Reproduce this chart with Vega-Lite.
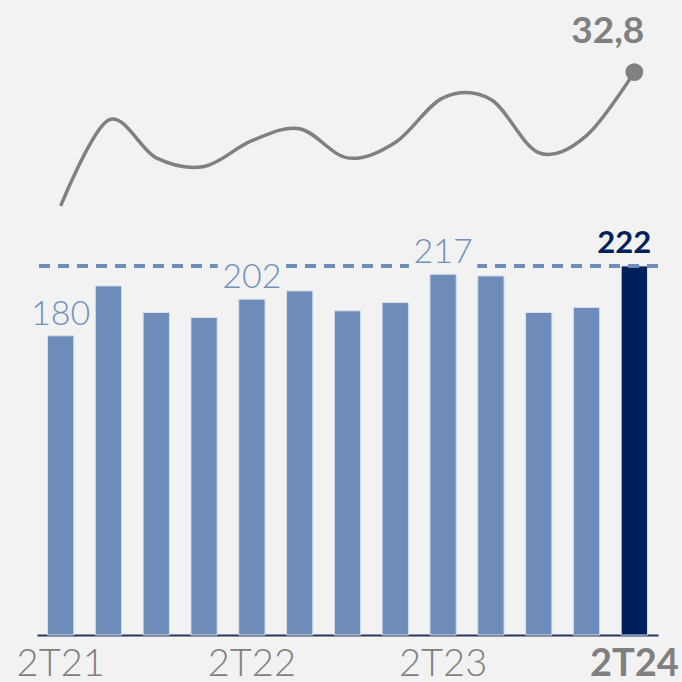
{
  "$schema": "https://vega.github.io/schema/vega-lite/v6.json",
  "width": 621,
  "height": 635,
  "autosize": {"type": "none"},
  "padding": {"left": 37, "right": 24, "top": 0, "bottom": 47},
  "background": "#f2f2f2",
  "config": {
    "view": {"stroke": null},
    "font": "Lato",
    "locale": {"number": {"decimal": ",", "thousands": ".", "grouping": [3], "currency": ["", " €"]}}
  },
  "data": {
    "values": [
      {"q": "2T21", "v": 180, "r": 25.0},
      {"q": "3T21", "v": 210, "r": 30.0},
      {"q": "4T21", "v": 194, "r": 27.8},
      {"q": "1T22", "v": 191, "r": 27.3},
      {"q": "2T22", "v": 202, "r": 28.8},
      {"q": "3T22", "v": 207, "r": 29.5},
      {"q": "4T22", "v": 195, "r": 27.8},
      {"q": "1T23", "v": 200, "r": 28.7},
      {"q": "2T23", "v": 217, "r": 31.3},
      {"q": "3T23", "v": 216, "r": 31.2},
      {"q": "4T23", "v": 194, "r": 28.1},
      {"q": "1T24", "v": 197, "r": 29.1},
      {"q": "2T24", "v": 222, "r": 32.8}
    ]
  },
  "layer": [
    {
      "mark": {"type": "bar", "stroke": "#d7e0ec", "strokeWidth": 1},
      "encoding": {
        "x": {
          "field": "q",
          "type": "nominal",
          "sort": null,
          "scale": {"paddingInner": 0.45, "paddingOuter": 0.22},
          "axis": {
            "title": null,
            "values": ["2T21", "2T22", "2T23", "2T24"],
            "labelAngle": 0,
            "ticks": false,
            "domainColor": "#263759",
            "domainWidth": 2,
            "labelFont": "Lato",
            "labelFontSize": 38,
            "labelColor": "#808080",
            "labelFontWeight": {"condition": {"test": "datum.value == '2T24'", "value": "bold"}, "value": 300},
            "labelPadding": 10
          }
        },
        "y": {"field": "v", "type": "quantitative", "scale": {"domain": [0, 382]}, "axis": null},
        "color": {"condition": {"test": "datum.q == '2T24'", "value": "#00205c"}, "value": "#6e8cb9"}
      }
    },
    {
      "mark": {"type": "rule", "color": "#6e8cb9", "strokeWidth": 2.5, "strokeDash": [11, 8]},
      "encoding": {
        "y": {"datum": 222, "type": "quantitative", "scale": {"domain": [0, 382]}, "axis": null}
      }
    },
    {
      "transform": [{"filter": {"field": "q", "oneOf": ["2T22", "2T23"]}}],
      "mark": {"type": "bar", "color": "#f2f2f2", "width": {"band": 2.6}},
      "encoding": {
        "x": {"field": "q", "type": "nominal", "sort": null},
        "y": {"datum": 219, "type": "quantitative", "scale": {"domain": [0, 382]}, "axis": null},
        "y2": {"datum": 225}
      }
    },
    {
      "transform": [{"filter": {"field": "q", "oneOf": ["2T21", "2T22", "2T23"]}}],
      "mark": {"type": "text", "baseline": "alphabetic", "dy": -11, "fontSize": 34, "fontWeight": 300, "color": "#7090bd"},
      "encoding": {
        "x": {"field": "q", "type": "nominal", "sort": null},
        "y": {"field": "v", "type": "quantitative", "scale": {"domain": [0, 382]}, "axis": null},
        "text": {"field": "v", "type": "quantitative"}
      }
    },
    {
      "transform": [{"filter": "datum.q == '2T24'"}],
      "mark": {"type": "text", "baseline": "alphabetic", "dy": -13, "dx": -10, "fontSize": 31, "fontWeight": "bold", "color": "#00205c"},
      "encoding": {
        "x": {"field": "q", "type": "nominal", "sort": null},
        "y": {"field": "v", "type": "quantitative", "scale": {"domain": [0, 382]}, "axis": null},
        "text": {"field": "v", "type": "quantitative"}
      }
    },
    {
      "mark": {"type": "line", "interpolate": "cardinal", "tension": 0, "color": "#808080", "strokeWidth": 3.5},
      "encoding": {
        "x": {"field": "q", "type": "nominal", "sort": null},
        "y": {"field": "r", "type": "quantitative", "scale": {"domain": [0, 37]}, "axis": null}
      }
    },
    {
      "transform": [{"filter": "datum.q == '2T24'"}],
      "mark": {"type": "point", "filled": true, "size": 320, "color": "#808080", "opacity": 1},
      "encoding": {
        "x": {"field": "q", "type": "nominal", "sort": null},
        "y": {"field": "r", "type": "quantitative", "scale": {"domain": [0, 37]}, "axis": null}
      }
    },
    {
      "transform": [{"filter": "datum.q == '2T24'"}],
      "mark": {"type": "text", "align": "right", "baseline": "alphabetic", "dx": 10, "dy": -29, "fontSize": 37, "fontWeight": "bold", "color": "#808080"},
      "encoding": {
        "x": {"field": "q", "type": "nominal", "sort": null},
        "y": {"field": "r", "type": "quantitative", "scale": {"domain": [0, 37]}, "axis": null},
        "text": {"field": "r", "type": "quantitative", "format": ".1f"}
      }
    }
  ],
  "resolve": {"scale": {"y": "independent"}}
}
